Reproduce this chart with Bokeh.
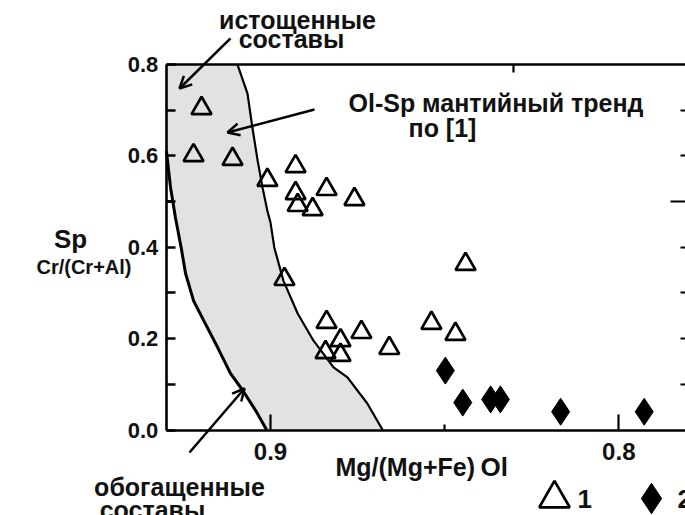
from bokeh.plotting import figure
from bokeh.models import (Range1d, FixedTicker, LinearAxis, Label, Arrow, OpenHead,
                          Legend, LegendItem)
from bokeh.embed import file_html
from bokeh.resources import INLINE

# ---------------- data ----------------
# group 1: open triangles  (Mg/(Mg+Fe) Ol , Cr/(Cr+Al) Sp)
tri_x = [0.9198, 0.9221, 0.9109, 0.9009, 0.8928, 0.8839, 0.8928, 0.8922, 0.8879, 0.8759,
         0.8960, 0.8839, 0.8799, 0.8842, 0.8799, 0.8739, 0.8659, 0.8538, 0.8469, 0.8440]
tri_y = [0.704, 0.601, 0.593, 0.547, 0.577, 0.527, 0.518, 0.492, 0.483, 0.505,
         0.330, 0.236, 0.196, 0.170, 0.164, 0.214, 0.179, 0.234, 0.210, 0.363]
# group 2: filled diamonds
dia_x = [0.8498, 0.8448, 0.8368, 0.8340, 0.8167, 0.7927]
dia_y = [0.130, 0.060, 0.067, 0.067, 0.040, 0.040]

# Ol-Sp mantle trend band boundaries
left_x = [0.9299, 0.9287, 0.9273, 0.9256, 0.9244, 0.9221, 0.9192, 0.9152, 0.9115, 0.9080, 0.9043, 0.9011]
left_y = [0.612, 0.531, 0.465, 0.397, 0.343, 0.283, 0.240, 0.181, 0.124, 0.087, 0.043, 0.0]
right_x = [0.9095, 0.9066, 0.9052, 0.9037, 0.9023, 0.9009, 0.9000, 0.8989, 0.8963, 0.8922,
           0.8877, 0.8819, 0.8779, 0.8722, 0.8678]
right_y = [0.800, 0.736, 0.662, 0.590, 0.531, 0.480, 0.454, 0.399, 0.327, 0.255,
           0.196, 0.137, 0.115, 0.058, 0.0]

x_ticks = [0.9, 0.8]
x_tick_labels = ["0.9", "0.8"]
y_ticks = [0.0, 0.2, 0.4, 0.6, 0.8]
y_tick_labels = ["0.0", "0.2", "0.4", "0.6", "0.8"]

# axis box (data) and visible window (data)
BOX_X0 = 0.9299          # left side of the axis box
BOX_Y0, BOX_Y1 = 0.0, 0.8
VIEW_X = (0.97752, 0.78085)
VIEW_Y = (-0.18713, 0.94003)

FONT = "Liberation Sans"
INK = "#111111"

p = figure(width=685, height=515, output_backend="svg", toolbar_location=None, title=None,
           x_range=Range1d(*VIEW_X), y_range=Range1d(*VIEW_Y),
           min_border_left=0, min_border_top=0, min_border_bottom=0, min_border_right=0)
p.outline_line_color = None
p.xgrid.visible = False
p.ygrid.visible = False
p.background_fill_color = "white"
p.border_fill_color = "white"

# ---- axes (fixed onto the axis box) ----
xa = p.xaxis[0]
xa.fixed_location = BOX_Y0
xa.bounds = (VIEW_X[1], BOX_X0)
xa.ticker = FixedTicker(ticks=x_ticks, minor_ticks=[0.85])
xa.major_label_overrides = {t: l for t, l in zip(x_ticks, x_tick_labels)}
xa.major_tick_in = 16
xa.major_tick_out = 0
xa.minor_tick_in = 6
xa.minor_tick_out = 0
xa.axis_line_width = 2.6
xa.major_tick_line_width = 2.2
xa.minor_tick_line_width = 2.2
xa.major_label_text_font = FONT
xa.major_label_text_font_style = "bold"
xa.major_label_text_font_size = "24px"
xa.major_label_text_color = INK
xa.major_label_standoff = 13

ya = p.yaxis[0]
ya.fixed_location = BOX_X0
ya.bounds = (BOX_Y0, BOX_Y1)
ya.ticker = FixedTicker(ticks=y_ticks, minor_ticks=[0.1, 0.3, 0.5, 0.7])
ya.major_label_overrides = {t: l for t, l in zip(y_ticks, y_tick_labels)}
ya.major_tick_in = 9
ya.major_tick_out = 0
ya.minor_tick_in = 9
ya.minor_tick_out = 0
ya.axis_line_width = 2.6
ya.major_tick_line_width = 2.6
ya.minor_tick_line_width = 2.6
ya.major_label_text_font = FONT
ya.major_label_text_font_style = "bold"
ya.major_label_text_font_size = "22px"
ya.major_label_text_color = INK
ya.major_label_standoff = 8

top = LinearAxis(fixed_location=BOX_Y1, bounds=(VIEW_X[1], BOX_X0),
                 ticker=FixedTicker(ticks=[0.8302], minor_ticks=[]),
                 major_label_overrides={0.8302: ""}, major_label_text_font_size="0px",
                 major_tick_in=8, major_tick_out=0, minor_tick_in=0, minor_tick_out=0,
                 axis_line_width=2.6, major_tick_line_width=2.2, major_label_standoff=0)
p.add_layout(top, "above")

right = LinearAxis(fixed_location=VIEW_X[1], bounds=(BOX_Y0, BOX_Y1),
                   ticker=FixedTicker(ticks=[0.5], minor_ticks=[0.1, 0.2, 0.3, 0.4, 0.6, 0.7]),
                   major_label_overrides={0.5: ""}, major_label_text_font_size="0px",
                   major_tick_in=15, major_tick_out=0, minor_tick_in=5, minor_tick_out=0,
                   axis_line_color=None, major_tick_line_width=2.2, minor_tick_line_width=2.2,
                   major_label_standoff=0)
p.add_layout(right, "right")

# longer inner tick at 0.5 on the left axis
p.segment(x0=[BOX_X0], y0=[0.5], x1=[BOX_X0 - 16 / 3483], y1=[0.5],
          line_color="black", line_width=2.6)

# ---- trend band ----
band_x = [BOX_X0] + right_x + left_x[::-1]
band_y = [BOX_Y1] + right_y + left_y[::-1]
p.patch(band_x, band_y, fill_color="#e2e2e2", line_color=None)
p.line(left_x, left_y, line_color="black", line_width=3)
p.line(right_x, right_y, line_color="black", line_width=2.2)

# ---- data points ----
tri_r = p.scatter(tri_x, tri_y, marker="triangle", size=20, fill_color=None,
                  line_color="black", line_width=2.7)
dia_r = p.scatter(dia_x, dia_y, marker="diamond", size=27, fill_color="black",
                  line_color="black", line_width=1)

# legend symbols (labels "1", "2" are written next to them below)
legend = Legend(items=[LegendItem(label=" ", renderers=[tri_r]),
                       LegendItem(label=" ", renderers=[dia_r])],
                orientation="horizontal", location=(516, -21),
                glyph_width=76, glyph_height=76, label_standoff=0, spacing=1,
                label_width=20, padding=0, margin=0, border_line_color=None,
                background_fill_alpha=0, label_text_font_size="10px")
p.add_layout(legend, "center")

# ---- texts ----
def lab(x, y, text, size, align="center"):
    p.add_layout(Label(x=x, y=y, text=text, text_font=FONT, text_font_style="bold",
                       text_font_size=size, text_align=align, text_baseline="alphabetic",
                       text_color=INK))

lab(0.89225, 0.8963, "истощенные", "25px")
lab(0.89397, 0.8547, "составы", "25px")
lab(0.87761, 0.7146, "Ol-Sp мантийный тренд", "25px", "left")
lab(0.85062, 0.6599, "по [1]", "25px")
lab(0.92613, -0.1237, "обогащенные", "25px")
lab(0.93388, -0.1740, "составы", "25px")
lab(0.95742, 0.4191, "Sp", "26px")
lab(0.95355, 0.3578, "Cr/(Cr+Al)", "20px")
lab(0.88134, -0.0799, "Mg/(Mg+Fe)", "25px", "left")
lab(0.8397, -0.0799, "Ol", "26px", "left")
lab(0.81186, -0.1521, "1", "26px", "left")
lab(0.78315, -0.1521, "2", "26px", "left")

# ---- leader arrows ----
def arrow(x0, y0, x1, y1):
    p.add_layout(Arrow(x_start=x0, y_start=y0, x_end=x1, y_end=y1, line_width=2.5,
                       line_color="black",
                       end=OpenHead(size=12, line_width=2.5, line_color="black")))

arrow(0.91148, 0.8569, 0.92613, 0.7474)
arrow(0.88737, 0.7015, 0.91235, 0.6511)
arrow(0.92326, -0.0492, 0.90746, 0.0908)

open("out.html", "w").write(file_html(p, INLINE))
